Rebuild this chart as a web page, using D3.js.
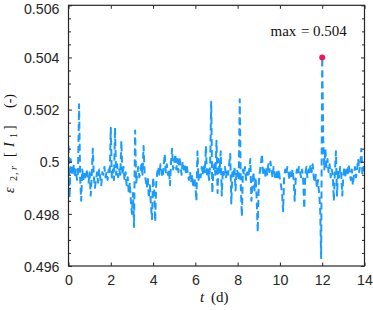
<!DOCTYPE html>
<html>
<head>
<meta charset="utf-8">
<script src="https://cdn.jsdelivr.net/npm/d3@7"></script>
<style>
  html, body { margin: 0; padding: 0; background: #fff; }
  svg { display: block; }
</style>
</head>
<body>
<div id="chart"></div>
<script>
// ---- data ----
const tStart = 0;          // d
const tStep = 0.05;        // sampling step, d
const eps = [
  // day 0
  0.5006, 0.4986, 0.5001, 0.4997, 0.4995, 0.4999, 0.4994, 0.4997, 0.4993, 0.4996,
  0.5022, 0.4994, 0.4985, 0.4997, 0.4993, 0.4996, 0.4994, 0.4997, 0.4995, 0.4992,
  // day 1
  0.4996, 0.4987, 0.4995, 0.5005, 0.4994, 0.4990, 0.4993, 0.4996, 0.4992, 0.4997,
  0.4994, 0.4991, 0.4996, 0.4995, 0.4998, 0.4994, 0.4996, 0.4993, 0.4997, 0.4995,
  // day 2
  0.5013, 0.4994, 0.4997, 0.4993, 0.5013, 0.4995, 0.4999, 0.4994, 0.4997, 0.4995,
  0.5008, 0.4995, 0.4998, 0.4993, 0.4996, 0.4991, 0.4994, 0.4988, 0.4992, 0.4985,
  // day 3
  0.4980, 0.4988, 0.4975, 0.5012, 0.4992, 0.4995, 0.4998, 0.4994, 0.4996, 0.4999,
  0.4995, 0.5006, 0.4996, 0.4993, 0.4990, 0.4994, 0.4986, 0.4991, 0.4983, 0.4978,
  // day 4
  0.4994, 0.4990, 0.4977, 0.4992, 0.4996, 0.4998, 0.4995, 0.4999, 0.4996, 0.4994,
  0.4998, 0.5003, 0.4996, 0.4999, 0.4995, 0.4997, 0.4991, 0.5000, 0.5005, 0.4997,
  // day 5
  0.4999, 0.5003, 0.4997, 0.5001, 0.4996, 0.5002, 0.4998, 0.4995, 0.5000, 0.4997,
  0.4999, 0.4996, 0.4998, 0.4995, 0.4993, 0.4996, 0.4992, 0.4995, 0.4990, 0.4994,
  // day 6
  0.4991, 0.4985, 0.5004, 0.4993, 0.4996, 0.4994, 0.4998, 0.4995, 0.4999, 0.4996,
  0.5006, 0.4994, 0.4997, 0.4993, 0.4999, 0.5023, 0.4988, 0.4996, 0.4999, 0.4995,
  // day 7
  0.5008, 0.4988, 0.5001, 0.4996, 0.5004, 0.4987, 0.4997, 0.4995, 0.4998, 0.4994,
  0.4997, 0.4995, 0.4999, 0.5003, 0.4984, 0.4996, 0.4994, 0.4998, 0.4989, 0.4997,
  // day 8
  0.4996, 0.4993, 0.5024, 0.4990, 0.4979, 0.4997, 0.4995, 0.4998, 0.4993, 0.4996,
  0.4994, 0.4997, 0.5001, 0.4985, 0.4991, 0.4996, 0.4989, 0.4994, 0.4986, 0.4973,
  // day 9
  0.4992, 0.4996, 0.4999, 0.5003, 0.4995, 0.4997, 0.4994, 0.4998, 0.4995, 0.4999,
  0.4996, 0.5000, 0.4997, 0.4994, 0.4998, 0.4995, 0.4993, 0.4996, 0.4994, 0.4997,
  // day 10
  0.4993, 0.4991, 0.4988, 0.4981, 0.4994, 0.4997, 0.4995, 0.4998, 0.4996, 0.4993,
  0.4996, 0.4994, 0.4997, 0.4993, 0.4985, 0.4994, 0.4997, 0.4995, 0.4998, 0.4996,
  // day 11
  0.4994, 0.4997, 0.4993, 0.4982, 0.4995, 0.4998, 0.4994, 0.4997, 0.4995, 0.4999,
  0.4996, 0.4999, 0.4994, 0.4992, 0.4995, 0.4990, 0.4993, 0.4988, 0.4983, 0.4963,
  // day 12
  0.5040, 0.5008, 0.4997, 0.5005, 0.4998, 0.5001, 0.4996, 0.4999, 0.4994, 0.4997,
  0.4995, 0.4985, 0.4996, 0.5004, 0.4987, 0.4997, 0.4994, 0.4998, 0.4995, 0.4987,
  // day 13
  0.4995, 0.4998, 0.4994, 0.4997, 0.4995, 0.4999, 0.4996, 0.4993, 0.4997, 0.4991,
  0.4995, 0.4998, 0.4994, 0.4997, 0.5001, 0.4996, 0.4999, 0.5005, 0.4995, 0.4998,
  // t = 14
  0.4997
];
const maxPoint = { t: 12, value: 0.504 };
const maxLabelValue = "0.504";

const xTicks = [0, 2, 4, 6, 8, 10, 12, 14];
const xTickLabels = ["0", "2", "4", "6", "8", "10", "12", "14"];
const yTicks = [0.496, 0.498, 0.5, 0.502, 0.504, 0.506];
const yTickLabels = ["0.496", "0.498", "0.5", "0.502", "0.504", "0.506"];
const yMinorTicks = [0.4965, 0.497, 0.4975, 0.4985, 0.499, 0.4995, 0.5005, 0.501, 0.5015,
                     0.5025, 0.503, 0.5035, 0.5045, 0.505, 0.5055];

// ---- layout ----
const W = 373, H = 310;
const L = 68.5, R = 364.5, T = 5.3, B = 266;
const axisColor = "#262626";
const lineColor = "#1a9bff";
const markColor = "#f5145f";

const svg = d3.select("#chart").append("svg").attr("width", W).attr("height", H);

const x = d3.scaleLinear().domain([0, 14]).range([L, R]);
const y = d3.scaleLinear().domain([0.496, 0.506]).range([B, T]);

const data = eps.map((v, i) => ({ t: tStart + i * tStep, v }));

// clip
svg.append("clipPath").attr("id", "clip")
  .append("rect").attr("x", L).attr("y", T).attr("width", R - L).attr("height", B - T);

// line
const line = d3.line().x(d => x(d.t)).y(d => y(d.v));
svg.append("path")
  .datum(data)
  .attr("clip-path", "url(#clip)")
  .attr("fill", "none")
  .attr("stroke", lineColor)
  .attr("stroke-width", 2)
  .attr("stroke-dasharray", "7,4")
  .attr("stroke-linejoin", "round")
  .attr("d", line);

// max marker
svg.append("circle")
  .attr("cx", x(maxPoint.t)).attr("cy", y(maxPoint.value))
  .attr("r", 3).attr("fill", markColor);

// max label
const ml = svg.append("text")
  .attr("y", 35.5)
  .attr("font-family", "'Liberation Serif', 'DejaVu Serif', serif")
  .attr("font-size", 15)
  .attr("fill", "#111");
ml.append("tspan").attr("x", 270.5).text("max");
ml.append("tspan").attr("x", 301).text("=");
ml.append("tspan").attr("x", 313).text(maxLabelValue);

// axes
const tickFont = "'Liberation Sans', Arial, sans-serif";
function styleAxis(g) {
  g.select(".domain").remove();
  g.selectAll(".tick line").attr("stroke", axisColor).attr("stroke-width", 1);
  g.selectAll(".tick text").attr("fill", axisColor)
    .attr("font-family", tickFont).attr("font-size", 14.2);
}

svg.append("g").attr("transform", `translate(0,${B})`)
  .call(d3.axisBottom(x).tickValues(xTicks).tickSize(-3.5).tickPadding(9)
    .tickFormat((d, i) => xTickLabels[i]))
  .call(styleAxis);
svg.append("g").attr("transform", `translate(0,${T})`)
  .call(d3.axisTop(x).tickValues(xTicks).tickSize(-3.5).tickFormat(""))
  .call(styleAxis);
svg.append("g").attr("transform", `translate(${L},0)`)
  .call(d3.axisLeft(y).tickValues(yTicks).tickSize(-3.5).tickPadding(9)
    .tickFormat((d, i) => yTickLabels[i]))
  .call(styleAxis)
  .call(g => g.selectAll(".tick text")
    .attr("dy", d => d === 0.506 ? "0.55em" : "0.37em"));
svg.append("g").attr("transform", `translate(${L},0)`)
  .call(d3.axisLeft(y).tickValues(yMinorTicks).tickSize(-2.5).tickFormat(""))
  .call(styleAxis);
svg.append("g").attr("transform", `translate(${R},0)`)
  .call(d3.axisRight(y).tickValues(yTicks).tickSize(-3.5).tickFormat(""))
  .call(styleAxis);
svg.append("g").attr("transform", `translate(${R},0)`)
  .call(d3.axisRight(y).tickValues(yMinorTicks).tickSize(-2.5).tickFormat(""))
  .call(styleAxis);

// frame
svg.append("rect")
  .attr("x", L).attr("y", T).attr("width", R - L).attr("height", B - T)
  .attr("fill", "none").attr("stroke", axisColor).attr("stroke-width", 1.2);

// x label
const serif = "'Liberation Serif', 'DejaVu Serif', serif";
const xl = svg.append("text").attr("y", 302)
  .attr("font-family", serif).attr("font-size", 15).attr("fill", "#111");
xl.append("tspan").attr("x", 200).attr("font-style", "italic").text("t");
xl.append("tspan").attr("x", 211).text("(d)");

// y label (rotated)
const yg = svg.append("g").attr("transform", "translate(14,193) rotate(-90)");
const yl = yg.append("text").attr("y", 0)
  .attr("font-family", serif).attr("font-size", 14).attr("fill", "#111");
yl.append("tspan").attr("x", 0).attr("font-style", "italic").text("ε");
yl.append("tspan").attr("x", 12).attr("dy", 3).attr("font-size", 10).text("2");
yl.append("tspan").attr("x", 18).attr("font-size", 10).text(",");
yl.append("tspan").attr("x", 23).attr("font-size", 10).attr("font-style", "italic").text("r");
yl.append("tspan").attr("x", 36).attr("dy", -3).text("[");
yl.append("tspan").attr("x", 46).attr("font-style", "italic").text("I");
yl.append("tspan").attr("x", 55).attr("dy", 3).attr("font-size", 10).text("1");
yl.append("tspan").attr("x", 63).attr("dy", -3).text("]");
yl.append("tspan").attr("x", 85).text("(-)");
</script>
</body>
</html>
